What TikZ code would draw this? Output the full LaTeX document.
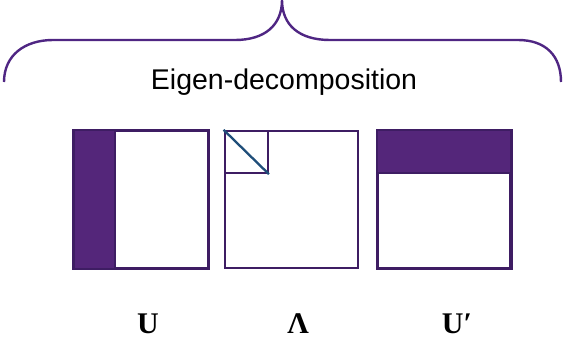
\documentclass[tikz,border=0pt]{standalone}
\usepackage{fontspec}
\newfontfamily\lsans{Liberation Sans}
\newfontfamily\lserif{Liberation Serif}
\definecolor{pfill}{HTML}{54267A}
\definecolor{pline}{HTML}{3E1D63}
\definecolor{pbrace}{HTML}{4F2683}
\definecolor{diag}{HTML}{1F4E79}
\tikzset{
  mbox/.style={draw=pline, line width=2.3pt},
  lbl/.style={font=\lserif\bfseries\fontsize{30}{36}\selectfont, anchor=base, inner sep=0pt},
}
\begin{document}
\begin{tikzpicture}[x=1pt,y=-1pt]
\useasboundingbox (0,0) rectangle (563,338);
% brace
\draw[pbrace, line width=2.4pt]
  (4,82) .. controls (4,55) and (25,40) .. (53,40) -- (235,40)
  .. controls (265,40) and (282,25) .. (282,0)
  .. controls (282,25) and (299,40) .. (330,40) -- (518,40)
  .. controls (546,40) and (561,56) .. (561,82);
\node[font=\lsans\fontsize{28.5}{34}\selectfont, anchor=base, inner sep=0pt] (title) at (284,89) {Eigen-decomposition};
% U
\node[mbox, minimum width=133pt, minimum height=137pt, inner sep=0pt] (U) at (141.25,199.5) {};
\fill[pfill] (U.north west) rectangle ([xshift=41.5pt]U.south west);
\draw[pline, line width=2.3pt] ([xshift=41.5pt]U.north west) -- ([xshift=41.5pt]U.south west);
\draw[mbox] (U.north west) rectangle (U.south east);
% Lambda
\node[mbox, minimum width=133pt, minimum height=137pt, inner sep=0pt] (L) at (291.25,199.5) {};
\node[mbox, minimum width=43pt, minimum height=42pt, inner sep=0pt, anchor=north west] (Ls) at (L.north west) {};
\draw[diag, line width=2.3pt] (Ls.north west) -- (Ls.south east);
% U'
\node[mbox, minimum width=132pt, minimum height=137pt, inner sep=0pt] (V) at (444.25,199.5) {};
\fill[pfill] (V.north west) rectangle ([yshift=-43pt]V.north east);
\draw[pline, line width=2.3pt] ([yshift=-43pt]V.north west) -- ([yshift=-43pt]V.north east);
\draw[mbox] (V.north west) rectangle (V.south east);
% labels
\node[lbl] (lU) at (148,333) {U};
\node[lbl] (lL) at (298,333) {Λ};
\node[lbl] (lV) at (457,333) {U′};
\end{tikzpicture}
\end{document}
